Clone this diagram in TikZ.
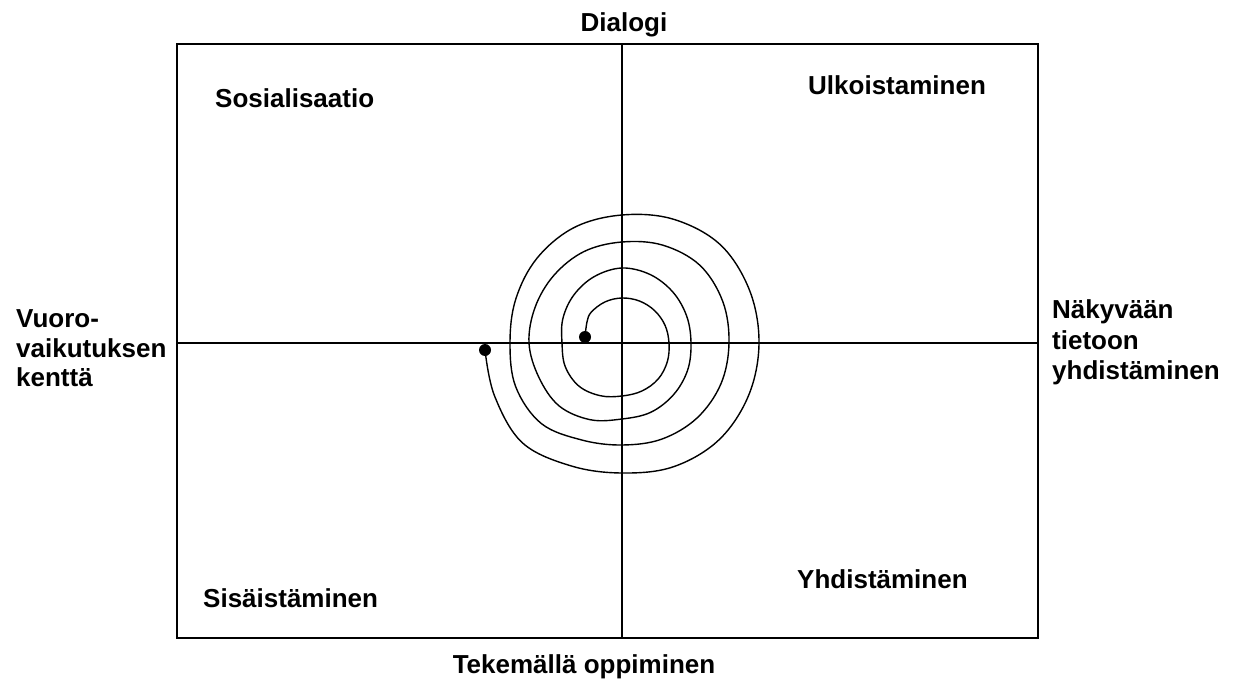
\documentclass[tikz,border=0pt]{standalone}
\usepackage{fontspec}
\setmainfont{Liberation Sans}
\begin{document}
\begin{tikzpicture}[x=1pt,y=-1pt,
  lbl/.style={font=\bfseries\fontsize{26}{27}\selectfont, inner sep=0pt, anchor=base west},
  lblc/.style={font=\bfseries\fontsize{26}{27}\selectfont, inner sep=0pt, anchor=base},
  frame/.style={line width=2pt},
  axis/.style={line width=1.4pt},
  spiralline/.style={line width=1.4pt, line join=round},
  dotmark/.style={circle, fill=black, inner sep=0pt, minimum size=12pt}]
\useasboundingbox (0,0) rectangle (1239,679);
% frame
\coordinate (tl) at (177,44);
\coordinate (br) at (1038,638);
\draw[frame] (tl) rectangle (br);
\coordinate (top) at (622,44);
\coordinate (bot) at (622,638);
\coordinate (lft) at (177,343);
\coordinate (rgt) at (1038,343);
\draw[axis] (top) -- (bot);
\draw[axis] (lft) -- (rgt);
% spiral
\node[dotmark] (inner) at (585,337) {};
\node[dotmark] (outer) at (485,350) {};
\draw[spiralline] plot[smooth, tension=0.6] coordinates {
 (585,337) (587,322) (591.2,312.2) (605,301.9) (622,298)
 (639.4,301) (654.5,310.5) (665,325.2) (669,343)
 (667.3,361.8) (658.1,379.1) (641.9,391) (622,396)
 (600.2,395.7) (578.9,386.1) (565.2,366.5) (562,343)
 (562.9,318.5) (573.9,294.9) (594.4,276.5) (622,268)
 (650.3,274.6) (672.9,292.1) (686.7,316.2) (691,343)
 (687.6,370.2) (673.6,394.6) (650.7,412.3) (622,419)
 (590.2,419.7) (559.1,405.9) (538.9,377.4) (529,343)
 (535.2,307) (554.1,275.1) (584.1,251.5) (622,242)
 (662.6,245.1) (699.8,265.2) (722.7,301.3) (729,343)
 (720.9,383.9) (697,418) (661.8,439.1) (622,445)
 (581.8,440) (541.4,423.6) (515.8,387) (510,343)
 (515.8,299) (537.1,258.1) (574.2,227.5) (622,215)
 (673.3,219.2) (720.3,244.7) (749.5,290.2) (759,343)
 (748.6,395.4) (718.9,439.9) (673.3,466.8) (622,473)
 (571.1,465.9) (522.3,442.7) (494.5,395.8) (485,350)};
% labels
\node[lblc] (dialogi) at (624,32) {Dialogi};
\node[lblc] (tekemalla) at (584,673) {Tekemällä oppiminen};
\node[lbl] (sos) at (215,108) {Sosialisaatio};
\node[lbl] (ulk) at (808,95) {Ulkoistaminen};
\node[lbl] (sis) at (203,607) {Sisäistäminen};
\node[lbl] (yhd) at (797,588) {Yhdistäminen};
\node[lbl] (v1) at (16,327) {Vuoro-};
\node[lbl] (v2) at (16,357) {vaikutuksen};
\node[lbl] (v3) at (16,386) {kenttä};
\node[lbl] (n1) at (1052,318) {Näkyvään};
\node[lbl] (n2) at (1052,349) {tietoon};
\node[lbl] (n3) at (1052,379) {yhdistäminen};
\end{tikzpicture}
\end{document}
